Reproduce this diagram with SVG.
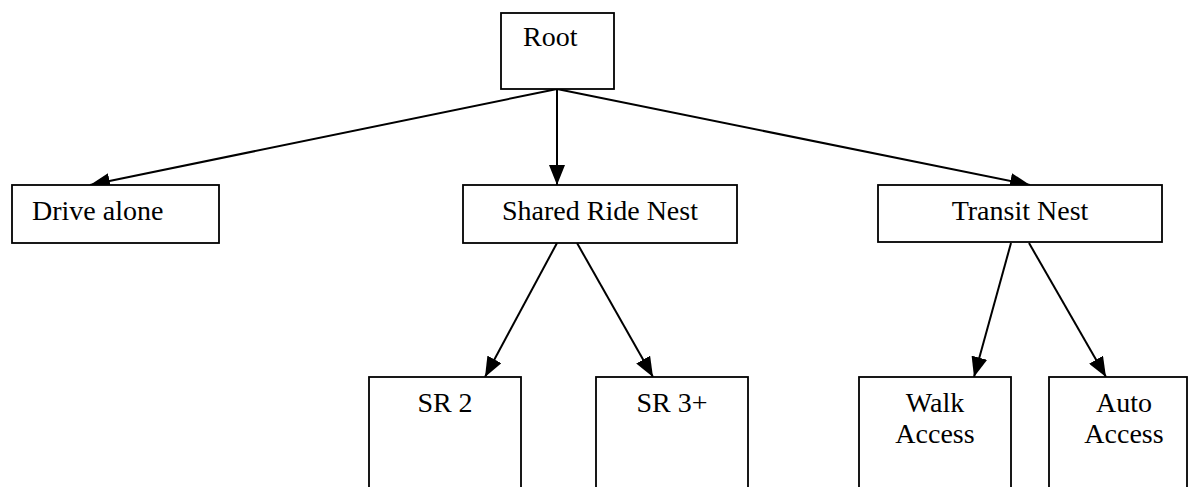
<svg xmlns="http://www.w3.org/2000/svg" width="1189" height="487" viewBox="0 0 1189 487">
<defs>
<marker id="arr" markerUnits="userSpaceOnUse" markerWidth="21" markerHeight="16" refX="20" refY="8" orient="auto">
<path d="M0,0 L20,8 L0,16 Z" fill="#000"/>
</marker>
<style>
.box{fill:#fff;stroke:#000;stroke-width:1.8}
.lbl{font-family:"Liberation Serif","Times New Roman",serif;font-size:28px;fill:#000}
.c{text-anchor:middle}
.edge{stroke:#000;stroke-width:2;fill:none;marker-end:url(#arr)}
</style>
</defs>
<rect width="1189" height="487" fill="#fff"/>
<g id="connectors">
<line class="edge" x1="557" y1="89" x2="90" y2="185"/>
<line class="edge" x1="557" y1="89" x2="557" y2="185"/>
<line class="edge" x1="557" y1="89" x2="1030" y2="185"/>
<line class="edge" x1="557" y1="243" x2="485" y2="377"/>
<line class="edge" x1="577" y1="243" x2="653" y2="377"/>
<line class="edge" x1="1011" y1="243" x2="974" y2="377"/>
<line class="edge" x1="1029" y1="243" x2="1106" y2="377"/>
</g>
<g id="root"><rect class="box" x="501" y="13" width="113" height="76"/><text class="lbl" x="523" y="46">Root</text></g>
<g id="drive-alone"><rect class="box" x="12" y="185" width="207" height="58"/><text class="lbl" x="32" y="220">Drive alone</text></g>
<g id="shared-ride-nest"><rect class="box" x="463" y="185" width="274" height="58"/><text class="lbl c" x="600" y="220">Shared Ride Nest</text></g>
<g id="transit-nest"><rect class="box" x="878" y="185" width="284" height="57"/><text class="lbl c" x="1020" y="220">Transit Nest</text></g>
<g id="sr2"><rect class="box" x="369" y="377" width="152" height="130"/><text class="lbl c" x="445" y="412">SR 2</text></g>
<g id="sr3"><rect class="box" x="596" y="377" width="152" height="130"/><text class="lbl c" x="672" y="412">SR 3+</text></g>
<g id="walk-access"><rect class="box" x="859" y="377" width="152" height="130"/><text class="lbl c" x="935" y="412">Walk</text><text class="lbl c" x="935" y="443">Access</text></g>
<g id="auto-access"><rect class="box" x="1049" y="377" width="138" height="130"/><text class="lbl c" x="1124" y="412">Auto</text><text class="lbl c" x="1124" y="443">Access</text></g>
</svg>
